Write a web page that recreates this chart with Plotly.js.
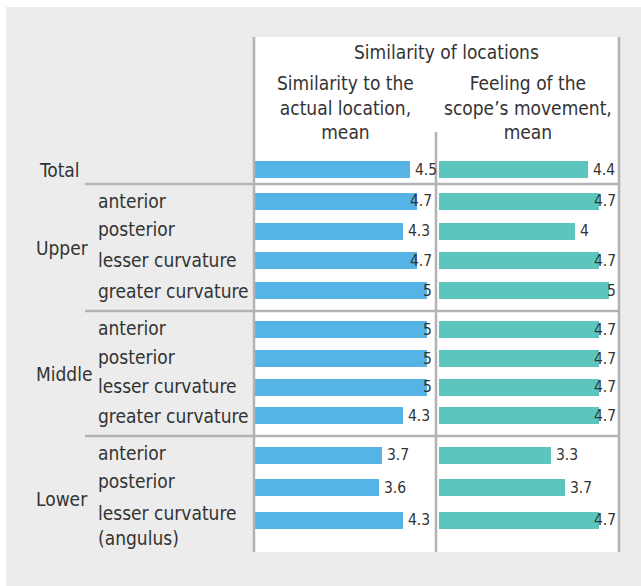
<!DOCTYPE html>
<html>
<head>
<meta charset="utf-8">
<script src="https://cdn.plot.ly/plotly-3.0.1.min.js"></script>
<style>html,body{margin:0;padding:0;background:#fff;}#chart{width:641px;height:586px;}</style>
</head>
<body>
<div id="chart"></div>
<script>
// ---------- data ----------
const groupNames = ['Total', 'Upper', 'Middle', 'Lower'];
const catsTotal  = ['Total'];
const catsUpper  = ['anterior', 'posterior', 'lesser curvature', 'greater curvature'];
const catsMiddle = ['anterior', 'posterior', 'lesser curvature', 'greater curvature'];
const catsLower  = ['anterior', 'posterior', 'lesser curvature<br>(angulus)'];

const actualTotal  = [4.5];
const actualUpper  = [4.7, 4.3, 4.7, 5];
const actualMiddle = [5, 5, 5, 4.3];
const actualLower  = [3.7, 3.6, 4.3];

const feelTotal  = [4.4];
const feelUpper  = [4.7, 4, 4.7, 5];
const feelMiddle = [4.7, 4.7, 4.7, 4.7];
const feelLower  = [3.3, 3.7, 4.7];

const headerMain  = 'Similarity of locations';
const headerLeft  = 'Similarity to the<br>actual location,<br>mean';
const headerRight = 'Feeling of the<br>scope’s movement,<br>mean';

// ---------- layout helpers ----------
const W = 641, H = 586;
const FONT = 'DejaVu Sans Condensed, DejaVu Sans, sans-serif';
const TXT = '#333333';
const BLUE = '#55b3e5';
const TEAL = '#5cc5bd';
const LINE = '#b3b3b3';
const BG = '#ebeceb';
const LBL = 19;
const VAL = 15.5;
const px = v => v / W;
const py = v => 1 - v / H;

const groups = [
  {name: groupNames[0], cats: catsTotal,  a: actualTotal,  f: feelTotal,  top: 155, bot: 184, range: [0.5, -0.5], lblShift: [0]},
  {name: groupNames[1], cats: catsUpper,  a: actualUpper,  f: feelUpper,  top: 184, bot: 311, range: [3.67, -0.57], lblShift: [0, 2, 1, 0]},
  {name: groupNames[2], cats: catsMiddle, a: actualMiddle, f: feelMiddle, top: 311, bot: 436, range: [3.7, -0.66], lblShift: [2, 2, 1, 0]},
  {name: groupNames[3], cats: catsLower,  a: actualLower,  f: feelLower,  top: 436, bot: 552, range: [2.98, -0.6], lblShift: [2, 7, -5]}
];

const xLeftRange = [0, 5.23], xRightRange = [-0.05, 5.3];
const fitLimit = 4.55;
const barPx = 17;

const traces = [];
const annotations = [];
const layout = {
  width: W, height: H,
  margin: {l: 0, r: 0, t: 0, b: 0},
  paper_bgcolor: '#ffffff',
  plot_bgcolor: 'rgba(0,0,0,0)',
  showlegend: false,
  font: {family: FONT, color: TXT, size: LBL},
  xaxis:  {domain: [px(255), px(435)], range: xLeftRange,  visible: false, fixedrange: true},
  xaxis2: {domain: [px(437), px(619)], range: xRightRange, visible: false, fixedrange: true},
  bargap: 0,
  shapes: [],
  annotations: annotations
};

groups.forEach((g, gi) => {
  const yName = gi === 0 ? 'y' : 'y' + (gi + 1);
  const axKey = gi === 0 ? 'yaxis' : 'yaxis' + (gi + 1);
  layout[axKey] = {
    domain: [py(g.bot), py(g.top)], type: 'category', range: g.range,
    visible: false, fixedrange: true, anchor: 'x'
  };
  const span = Math.abs(g.range[0] - g.range[1]);
  const unitPx = (g.bot - g.top) / span;
  const w = barPx / unitPx;
  traces.push({type: 'bar', orientation: 'h', x: g.a, y: g.cats, xaxis: 'x', yaxis: yName,
    marker: {color: BLUE}, width: g.cats.map(() => w), hoverinfo: 'none'});
  traces.push({type: 'bar', orientation: 'h', x: g.f, y: g.cats, xaxis: 'x2', yaxis: yName,
    marker: {color: TEAL}, width: g.cats.map(() => w), hoverinfo: 'none'});

  // value labels
  [[g.a, 'x', xLeftRange], [g.f, 'x2', xRightRange]].forEach(([vals, xr, rng]) => {
    vals.forEach((v, i) => {
      const fits = v <= fitLimit;
      annotations.push({
        xref: xr, yref: yName, x: fits ? v : rng[1], y: i,
        xanchor: fits ? 'left' : 'right', xshift: fits ? 3 : -1,
        text: String(v), showarrow: false,
        font: {family: FONT, size: VAL, color: TXT}
      });
    });
  });

  // category labels
  if (gi === 0) {
    annotations.push({xref: 'paper', yref: yName, x: px(37), y: 0, xanchor: 'left', yanchor: 'middle',
      text: g.cats[0], showarrow: false, font: {family: FONT, size: LBL, color: TXT}});
  } else {
    g.cats.forEach((c, i) => {
      annotations.push({xref: 'paper', yref: yName, x: px(96), y: i, xanchor: 'left', yanchor: 'middle',
        yshift: g.lblShift[i],
        text: c, showarrow: false, align: 'left', font: {family: FONT, size: LBL, color: TXT}});
    });
    annotations.push({xref: 'paper', yref: yName + ' domain', x: px(34), y: gi === 3 ? 0.46 : 0.5,
      xanchor: 'left', yanchor: 'middle', text: g.name, showarrow: false,
      font: {family: FONT, size: LBL, color: TXT}});
  }
});

// header
annotations.push({xref: 'paper', yref: 'paper', x: px(446), y: py(52), xanchor: 'center', yanchor: 'middle',
  text: headerMain, showarrow: false, font: {family: FONT, size: LBL, color: TXT}});
annotations.push({xref: 'paper', yref: 'paper', x: px(345), y: py(108), xanchor: 'center', yanchor: 'middle',
  text: headerLeft, showarrow: false, align: 'center', font: {family: FONT, size: LBL, color: TXT}});
annotations.push({xref: 'paper', yref: 'paper', x: px(528), y: py(108), xanchor: 'center', yanchor: 'middle',
  text: headerRight, showarrow: false, align: 'center', font: {family: FONT, size: LBL, color: TXT}});

// decorations
const S = layout.shapes;
S.push({type: 'rect', xref: 'paper', yref: 'paper', x0: px(6), x1: 1, y0: 0, y1: py(7), fillcolor: BG, line: {width: 0}, layer: 'below'});
S.push({type: 'rect', xref: 'paper', yref: 'paper', x0: px(254), x1: px(619), y0: py(552), y1: py(37), fillcolor: '#ffffff', line: {width: 0}, layer: 'below'});
[[254, 37], [436, 132], [619, 37]].forEach(([x, y0]) => {
  S.push({type: 'line', xref: 'paper', yref: 'paper', x0: px(x), x1: px(x), y0: py(552), y1: py(y0), line: {color: LINE, width: 2.5}, layer: 'above'});
});
[184, 311, 436].forEach(y => {
  S.push({type: 'line', xref: 'paper', yref: 'paper', x0: px(85), x1: px(619), y0: py(y), y1: py(y), line: {color: LINE, width: 2.5}, layer: 'above'});
});

Plotly.newPlot('chart', traces, layout, {staticPlot: true, displayModeBar: false});
</script>
</body>
</html>
